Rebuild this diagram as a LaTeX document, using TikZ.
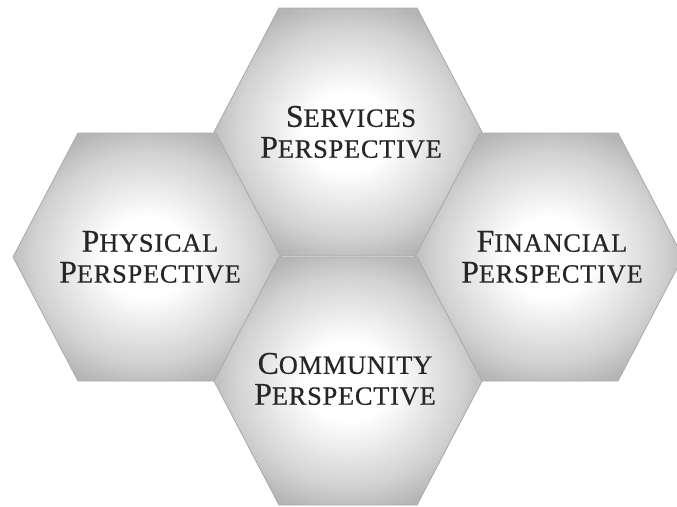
\documentclass[tikz,border=0pt]{standalone}
\usepackage{fontspec}
\newfontfamily\perspfont[LetterSpace=3,FakeBold=0.6]{Liberation Serif}

% soft light centre, grey towards the corners
\pgfdeclareradialshading{hexshade}{\pgfpoint{0bp}{0bp}}{%
  color(0bp)=(white); color(8bp)=(white); color(21bp)=(gray!35);
  color(27bp)=(gray!58); color(50bp)=(gray!58)}

\newcommand{\capword}[2]{{\fontsize{18}{17.6}\selectfont #1}{\fontsize{15}{17.6}\selectfont #2}}

\tikzset{
  hexa/.style={draw=gray!65, line width=0.5pt, shading=hexshade},
  persp/.style={font=\perspfont\fontsize{15}{17.6}\selectfont, text=black!85, align=center, inner sep=0pt}
}

\begin{document}
\begin{tikzpicture}
      \clip (0,0) rectangle (13.54,10.12);
      % hexagon centres
      \coordinate (cs) at (6.96,7.48);
      \coordinate (cp) at (2.94,4.98);
      \coordinate (cf) at (10.98,4.98);
      \coordinate (cc) at (6.96,2.50);
      \foreach \c in {cs,cp,cf,cc}
        \path[hexa] ([shift={(2.68,0)}]\c) -- ([shift={(1.38,2.48)}]\c)
          -- ([shift={(-1.38,2.48)}]\c) -- ([shift={(-2.68,0)}]\c)
          -- ([shift={(-1.38,-2.48)}]\c) -- ([shift={(1.38,-2.48)}]\c) -- cycle;
      \node[persp] (s) at ([shift={(0.06,0.0)}]cs) {\capword{S}{ERVICES}\\\capword{P}{ERSPECTIVE}};
      \node[persp] (p) at ([shift={(0.06,0.0)}]cp) {\capword{P}{HYSICAL}\\\capword{P}{ERSPECTIVE}};
      \node[persp] (f) at ([shift={(0.06,0.0)}]cf) {\capword{F}{INANCIAL}\\\capword{P}{ERSPECTIVE}};
      \node[persp] (c) at ([shift={(-0.06,0.04)}]cc) {\capword{C}{OMMUNITY}\\\capword{P}{ERSPECTIVE}};
\end{tikzpicture}
\end{document}
